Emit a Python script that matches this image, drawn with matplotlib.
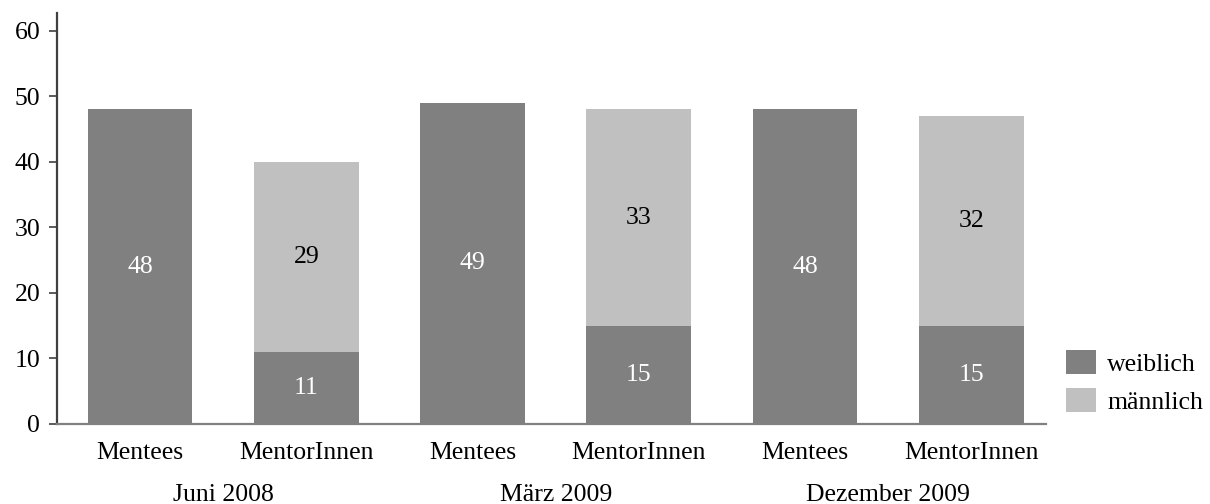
import matplotlib
matplotlib.use("Agg")
import matplotlib.pyplot as plt
from matplotlib.patches import Patch
from matplotlib.transforms import blended_transform_factory

plt.rcParams['font.family'] = ['Liberation Serif', 'DejaVu Serif']

categories = ["Mentees", "MentorInnen", "Mentees", "MentorInnen", "Mentees", "MentorInnen"]
groups = ["Juni 2008", "März 2009", "Dezember 2009"]
weiblich = [48, 11, 49, 15, 48, 15]
maennlich = [0, 29, 0, 33, 0, 32]
series_names = ["weiblich", "männlich"]
yticks = [0, 10, 20, 30, 40, 50, 60]

dark = "#808080"
light = "#c0c0c0"
fs = 18.5

fig = plt.figure(figsize=(12.10, 5.04), dpi=100)
ax = fig.add_axes([57 / 1210, 80 / 504, (1046 - 57) / 1210, 411 / 504])

x = list(range(len(categories)))
width = 0.63
ax.bar(x, weiblich, width, color=dark, linewidth=0)
ax.bar(x, maennlich, width, bottom=weiblich, color=light, linewidth=0)

for i, (w, m) in enumerate(zip(weiblich, maennlich)):
    if w > 0:
        ax.text(i, w / 2, str(w), ha="center", va="center", color="white", fontsize=fs)
    if m > 0:
        ax.text(i, w + m / 2, str(m), ha="center", va="center", color="black", fontsize=fs)

ax.set_xlim(-0.5, 5.45)
ax.set_ylim(0, 62.7)
ax.set_yticks(yticks)
ax.set_yticklabels([str(t) for t in yticks], fontsize=fs)
ax.set_xticks(x)
ax.set_xticklabels(categories, fontsize=fs)
ax.tick_params(axis="x", length=0, pad=13)
ax.tick_params(axis="y", length=6, width=1.2, color="#404040", pad=6)

for s in ("top", "right"):
    ax.spines[s].set_visible(False)
ax.spines["left"].set_color("#404040")
ax.spines["left"].set_linewidth(1.6)
ax.spines["bottom"].set_color(dark)
ax.spines["bottom"].set_linewidth(1.6)

trans = blended_transform_factory(ax.transData, ax.transAxes)
for g, name in enumerate(groups):
    ax.text(2 * g + 0.5, -0.172, name, transform=trans, ha="center", va="center", fontsize=fs)

handles = [Patch(facecolor=dark, edgecolor="none"), Patch(facecolor=light, edgecolor="none")]
fig.legend(handles, series_names, loc="center left", bbox_to_anchor=(1043 / 1210, (504 - 382) / 504),
           frameon=False, fontsize=fs, handlelength=1.17, handleheight=1.05,
           labelspacing=0.47, handletextpad=0.43)

fig.savefig("out.png", dpi=100)
